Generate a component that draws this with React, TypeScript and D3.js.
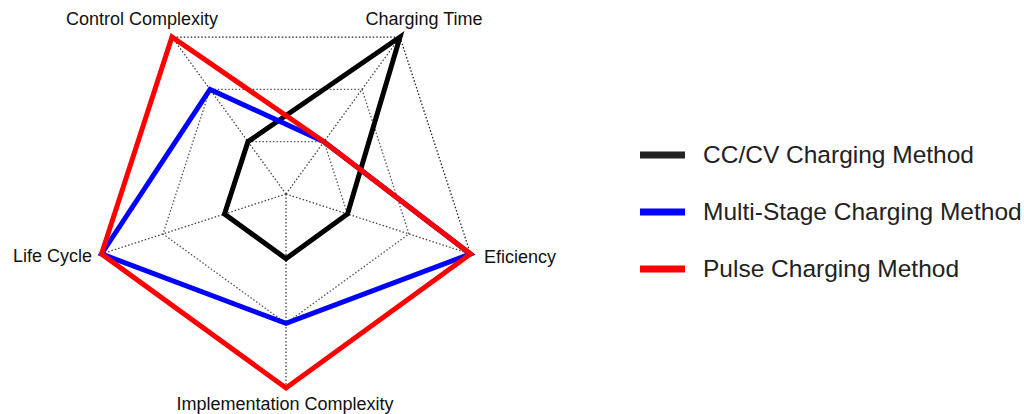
import React from "react";
import * as d3 from "d3";

const axes = ["Charging Time", "Eficiency", "Implementation Complexity", "Life Cycle", "Control Complexity"];
const seriesNames = ["CC/CV Charging Method", "Multi-Stage Charging Method", "Pulse Charging Method"];
const seriesColors = ["#000000", "#0000ff", "#ff0000"];
const ccCv = [3, 1, 1, 1, 1];
const multiStage = [1, 3, 2, 3, 2];
const pulse = [1, 3, 3, 3, 3];
const levels = [1, 2, 3];

const W = 1024;
const H = 414;
const cx = 286;
const cy = 194;
const R = 194;

export default function App() {
  const r = d3.scaleLinear().domain([0, 3]).range([0, R]);
  const angle = (i: number) => ((36 + 72 * i) * Math.PI) / 180;
  const pt = (i: number, v: number): [number, number] => [
    cx + r(v) * Math.sin(angle(i)),
    cy - r(v) * Math.cos(angle(i)),
  ];
  const line = d3.line<number>().x((v, i) => pt(i, v)[0]).y((v, i) => pt(i, v)[1]).curve(d3.curveLinearClosed);
  const data = [ccCv, multiStage, pulse];

  const labelPos: { x: number; y: number; anchor: string }[] = [
    { x: 424, y: 25, anchor: "middle" },
    { x: 484, y: 263, anchor: "start" },
    { x: 285, y: 410, anchor: "middle" },
    { x: 92, y: 262, anchor: "end" },
    { x: 142, y: 25, anchor: "middle" },
  ];

  return (
    <svg width={W} height={H} style={{ position: "absolute", left: 0, top: 0, background: "#fff" }}
      fontFamily="'Liberation Sans', Arial, sans-serif">
      <rect width={W} height={H} fill="#fff" />
      {levels.map((lv) => (
        <path key={lv} d={line(axes.map(() => lv)) || ""} fill="none"
          stroke={lv === 3 ? "#222" : "#555"} strokeWidth={1.3} strokeDasharray="1.5,2" />
      ))}
      {axes.map((a, i) => {
        const [x, y] = pt(i, 3);
        return <line key={a} x1={cx} y1={cy} x2={x} y2={y} stroke="#444" strokeWidth={1.3} strokeDasharray="1.5,2" />;
      })}
      {data.map((s, k) => (
        <path key={k} d={line(s) || ""} fill="none" stroke={seriesColors[k]} strokeWidth={5}
          strokeLinejoin="miter" strokeMiterlimit={10} />
      ))}
      {axes.map((a, i) => (
        <text key={a} x={labelPos[i].x} y={labelPos[i].y} textAnchor={labelPos[i].anchor as any}
          fontSize={18} fill="#111">{a}</text>
      ))}
      {seriesNames.map((n, k) => {
        const y = 155 + k * 57;
        return (
          <g key={n}>
            <line x1={640} x2={685} y1={y} y2={y} stroke={k === 0 ? "#222" : seriesColors[k]} strokeWidth={7} />
            <text x={703} y={y + 8} fontSize={24.5} fill="#222">{n}</text>
          </g>
        );
      })}
    </svg>
  );
}
